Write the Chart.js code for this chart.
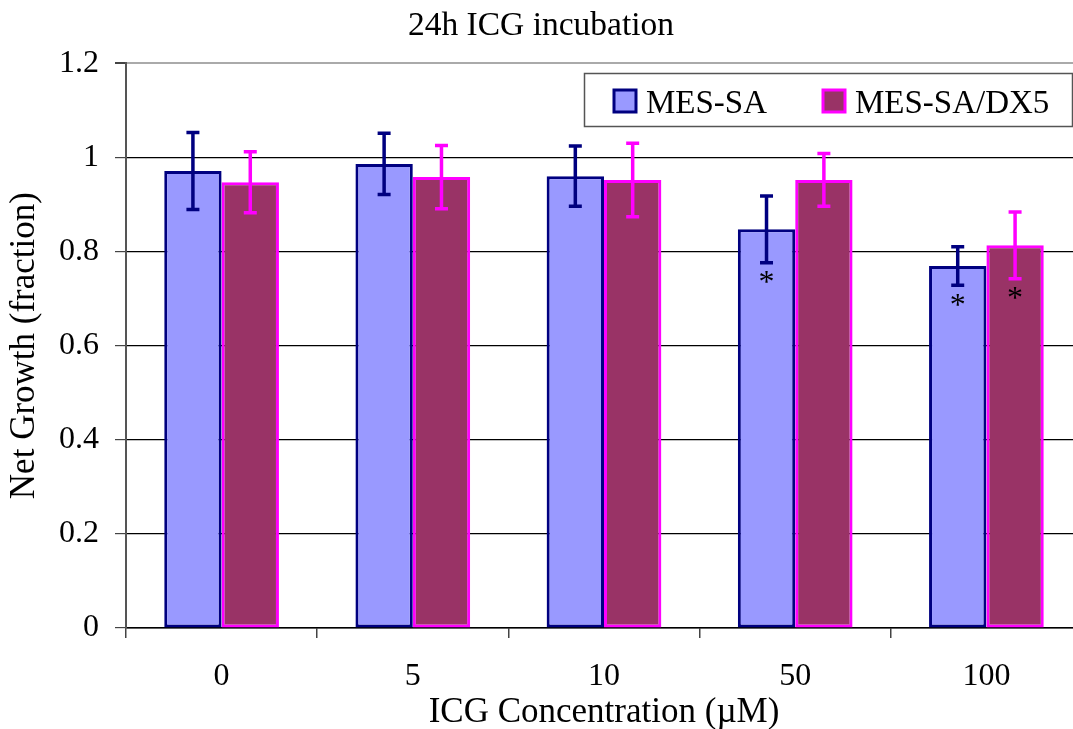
<!DOCTYPE html>
<html>
<head>
<meta charset="utf-8">
<script src="https://cdn.jsdelivr.net/npm/chart.js@4/dist/chart.umd.min.js"></script>
<style>
  html,body{margin:0;padding:0;background:#fff;overflow:hidden;}
  #wrap{width:1090px;height:729px;}
</style>
</head>
<body>
<div id="wrap"><canvas id="chart" width="1090" height="729"></canvas></div>
<script>
// data
const categories = ['0','5','10','50','100'];
const mesSA      = [0.971, 0.986, 0.960, 0.847, 0.769];
const mesSAerr   = [0.082, 0.065, 0.064, 0.071, 0.041];
const mesSAsig   = [false, false, false, true, true];
const dx5        = [0.947, 0.958, 0.952, 0.952, 0.813];
const dx5err     = [0.065, 0.067, 0.078, 0.056, 0.071];
const dx5sig     = [false, false, false, false, true];
const yTicks     = [0, 0.2, 0.4, 0.6, 0.8, 1, 1.2];

const FONT = "'Liberation Serif','Times New Roman',serif";
Chart.defaults.font.family = FONT;
Chart.defaults.color = '#000';

// error bars + significance stars
const errorBars = {
  id:'errorBars',
  afterDatasetsDraw(chart){
    const ctx=chart.ctx, y=chart.scales.y;
    chart.data.datasets.forEach((ds,di)=>{
      const meta=chart.getDatasetMeta(di);
      meta.data.forEach((bar,i)=>{
        const v=ds.data[i], e=ds.errors[i];
        const top=y.getPixelForValue(v+e), bot=y.getPixelForValue(v-e);
        ctx.save();
        ctx.strokeStyle=ds.errColor; ctx.lineWidth=3.5; ctx.lineCap='butt';
        ctx.beginPath();
        ctx.moveTo(bar.x,top); ctx.lineTo(bar.x,bot);
        ctx.moveTo(bar.x-6.5,top); ctx.lineTo(bar.x+6.5,top);
        ctx.moveTo(bar.x-6.5,bot); ctx.lineTo(bar.x+6.5,bot);
        ctx.stroke();
        if(ds.sig[i]){
          ctx.fillStyle='#000'; ctx.font='32px '+FONT;
          ctx.textAlign='center'; ctx.textBaseline='middle';
          ctx.fillText('*',bar.x,bot+21);
        }
        ctx.restore();
      });
    });
  }
};

// boxed legend in the top-right corner
const boxLegend = {
  id:'boxLegend',
  afterDraw(chart){
    const ctx=chart.ctx;
    ctx.save();
    ctx.fillStyle='#fff'; ctx.fillRect(584,73,489,54);
    ctx.strokeStyle='#555'; ctx.lineWidth=1.5; ctx.strokeRect(584.5,73.5,488,53);
    const items=[[614,646],[823,855]];
    chart.data.datasets.forEach((ds,i)=>{
      const [sx,tx]=items[i];
      ctx.fillStyle=ds.backgroundColor; ctx.fillRect(sx,90,22,22);
      ctx.strokeStyle=ds.borderColor; ctx.lineWidth=3; ctx.strokeRect(sx,90,22,22);
      ctx.fillStyle='#000'; ctx.font='33px '+FONT;
      ctx.textAlign='left'; ctx.textBaseline='alphabetic';
      ctx.fillText(ds.label,tx,113);
    });
    ctx.restore();
  }
};

new Chart(document.getElementById('chart'),{
  type:'bar',
  data:{
    labels:categories,
    datasets:[
      {label:'MES-SA', data:mesSA, errors:mesSAerr, sig:mesSAsig,
       backgroundColor:'#9999FF', borderColor:'#000080', errColor:'#000080',
       borderWidth:3, borderSkipped:false},
      {label:'MES-SA/DX5', data:dx5, errors:dx5err, sig:dx5sig,
       backgroundColor:'#993366', borderColor:'#FF00FF', errColor:'#FF00FF',
       borderWidth:3, borderSkipped:false}
    ]
  },
  options:{
    responsive:false, animation:false, devicePixelRatio:1,
    categoryPercentage:0.6, barPercentage:1,
    layout:{padding:{left:0,right:8,top:0,bottom:0}},
    plugins:{
      legend:{display:false},
      tooltip:{enabled:false},
      title:{display:true,text:'24h ICG incubation',color:'#000',
        font:{size:33.5,weight:'normal',lineHeight:1.2},padding:{top:6,bottom:17}}
    },
    scales:{
      x:{
        grid:{offset:true,drawOnChartArea:false,drawTicks:true,tickLength:10,tickColor:'#444',lineWidth:1.5},
        border:{color:'#000',width:1.5},
        ticks:{font:{size:32},padding:19,color:'#000'},
        title:{display:true,text:'ICG Concentration (\u00b5M)',color:'#000',
          font:{size:35,lineHeight:1},padding:{top:0,bottom:-1}},
        afterFit(s){ s.height=101; }
      },
      y:{
        min:0,max:1.2,
        afterBuildTicks(s){ s.ticks=yTicks.map(v=>({value:v})); },
        grid:{color:c=>c.tick&&c.tick.value===1.2?'#aaa':'#000',lineWidth:c=>c.tick&&c.tick.value===1.2?2:1.2,
          tickLength:11,tickColor:'#444'},
        border:{color:'#555',width:2},
        ticks:{font:{size:32},padding:16,color:'#000',callback:v=>String(+(+v).toFixed(1))},
        title:{display:true,text:'Net Growth (fraction)',color:'#000',
          font:{size:35},padding:{top:4,bottom:0}},
        afterFit(s){ s.width=126; }
      }
    }
  },
  plugins:[errorBars,boxLegend]
});
</script>
</body>
</html>
